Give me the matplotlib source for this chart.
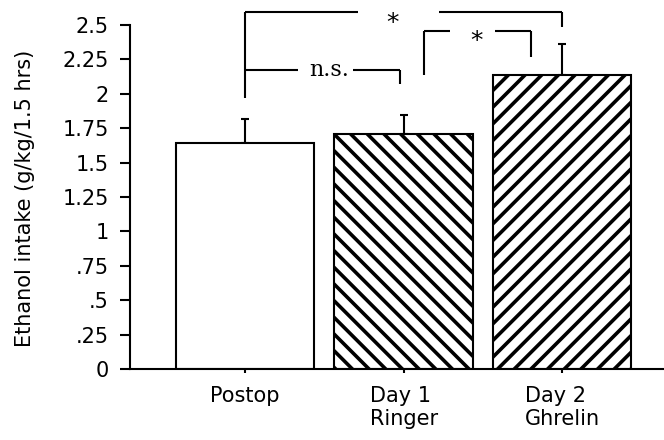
import matplotlib
matplotlib.use("Agg")
import matplotlib.pyplot as plt

# values
groups = ["Postop", "Day 1\nRinger", "Day 2\nGhrelin"]
intake = [1.64, 1.71, 2.14]
sem = [0.18, 0.135, 0.225]
hatches = ["", "\\\\", "//"]
yticks = [0, 0.25, 0.5, 0.75, 1, 1.25, 1.5, 1.75, 2, 2.25, 2.5]
ytick_labels = ["0", ".25", ".5", ".75", "1", "1.25", "1.5", "1.75", "2", "2.25", "2.5"]

plt.rcParams["font.family"] = ["DejaVu Sans"]
plt.rcParams["hatch.linewidth"] = 2.6
plt.rcParams["hatch.color"] = "black"

fig = plt.figure(figsize=(6.64, 4.40), dpi=100)
ax = fig.add_axes([0.1958, 0.1614, 0.8042, 0.7818])

x = list(range(len(groups)))
ax.bar(x, intake, width=0.875, color="white", edgecolor="black",
       linewidth=1.5, hatch=hatches, zorder=2)
ax.errorbar(x, intake, yerr=[[0] * len(sem), sem], fmt="none",
            ecolor="black", elinewidth=1.5, capsize=3.2, capthick=1.5, zorder=1)

ax.set_xlim(-0.726, 2.643)
ax.set_ylim(0, 2.5)
ax.set_yticks(yticks)
ax.set_yticklabels(ytick_labels)
ax.set_xticks(x)
ax.set_xticklabels(groups, multialignment="left", linespacing=1.2)
ax.set_ylabel("Ethanol intake (g/kg/1.5 hrs)", fontsize=15)
ax.yaxis.set_label_coords(-0.178, 0.4956)

for s in ("top", "right"):
    ax.spines[s].set_visible(False)
for s in ("left", "bottom"):
    ax.spines[s].set_linewidth(1.5)
ax.tick_params(axis="y", direction="out", length=7.2, width=1.5,
               labelsize=15, pad=8)
ax.tick_params(axis="x", direction="out", length=3, width=1.5,
               labelsize=15, pad=9)

# significance brackets (data coords, drawn outside clip)
lw = 1.5
segments = [
    # outer bracket Postop vs Day 2
    ([0, 0], [1.967, 2.592]),
    ([0, 0.71], [2.592, 2.592]),
    ([1.226, 2.0], [2.592, 2.592]),
    ([2.0, 2.0], [2.592, 2.488]),
    # inner bracket Day 1 vs Day 2
    ([1.127, 1.127], [2.137, 2.459]),
    ([1.127, 1.295], [2.459, 2.459]),
    ([1.579, 1.806], [2.459, 2.459]),
    ([1.806, 1.806], [2.459, 2.27]),
    # n.s. bracket Postop vs Day 1
    ([0, 0.334], [2.173, 2.173]),
    ([0.683, 0.975], [2.173, 2.173]),
    ([0.975, 0.975], [2.173, 2.071]),
]
for xs, ys in segments:
    ax.plot(xs, ys, color="black", linewidth=lw, clip_on=False,
            solid_capstyle="butt")

ax.text(0.93, 2.515, "*", ha="center", va="center", fontsize=18, clip_on=False)
ax.text(1.46, 2.385, "*", ha="center", va="center", fontsize=18, clip_on=False)
ax.text(0.53, 2.173, "n.s.", ha="center", va="center", fontsize=16,
        family="DejaVu Serif", clip_on=False)

fig.savefig("out.png", dpi=100)
